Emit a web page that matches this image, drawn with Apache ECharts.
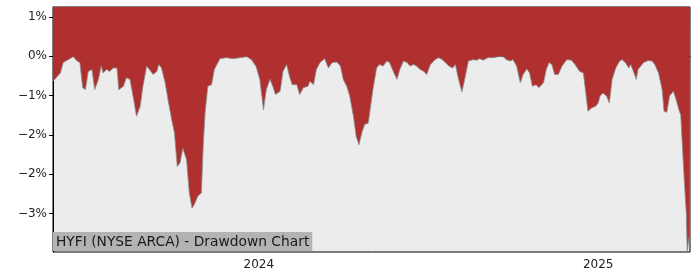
<!DOCTYPE html>
<html>
<head>
<meta charset="utf-8">
<script src="https://cdn.jsdelivr.net/npm/echarts@6/dist/echarts.min.js"></script>
<style>
html,body{margin:0;padding:0;background:#fff;}
#chart{width:700px;height:280px;}
</style>
</head>
<body>
<div id="chart"></div>
<script>
const dates = [
'2023-05-24','2023-06-01','2023-06-04','2023-06-15','2023-06-19','2023-06-22','2023-06-25','2023-06-28',
'2023-07-01','2023-07-05','2023-07-08','2023-07-12','2023-07-15','2023-07-17','2023-07-21','2023-07-24','2023-07-28',
'2023-08-01','2023-08-03','2023-08-08','2023-08-11','2023-08-15','2023-08-19','2023-08-22','2023-08-26','2023-08-29',
'2023-09-02','2023-09-05','2023-09-09','2023-09-13','2023-09-15','2023-09-18','2023-09-22','2023-09-25','2023-09-29',
'2023-10-02','2023-10-05','2023-10-08','2023-10-11','2023-10-15','2023-10-18','2023-10-21','2023-10-24','2023-10-27','2023-10-31',
'2023-11-02','2023-11-04','2023-11-07','2023-11-11','2023-11-14','2023-11-20','2023-11-27',
'2023-12-04','2023-12-12','2023-12-19','2023-12-24','2023-12-29',
'2024-01-02','2024-01-06','2024-01-09','2024-01-13','2024-01-16','2024-01-19','2024-01-24','2024-01-27','2024-01-31',
'2024-02-03','2024-02-06','2024-02-11','2024-02-14','2024-02-18','2024-02-23','2024-02-25','2024-02-29',
'2024-03-03','2024-03-07','2024-03-12','2024-03-16','2024-03-20','2024-03-25','2024-03-29',
'2024-04-01','2024-04-05','2024-04-08','2024-04-12','2024-04-15','2024-04-18','2024-04-21','2024-04-24','2024-04-28','2024-04-30',
'2024-05-03','2024-05-07','2024-05-10','2024-05-14','2024-05-18','2024-05-21','2024-05-25','2024-05-29',
'2024-06-01','2024-06-05','2024-06-09','2024-06-12','2024-06-16','2024-06-19','2024-06-23','2024-06-27','2024-06-30',
'2024-07-04','2024-07-09','2024-07-13','2024-07-17','2024-07-20','2024-07-24','2024-07-28','2024-07-31',
'2024-08-03','2024-08-07','2024-08-10','2024-08-14','2024-08-19','2024-08-23','2024-08-26','2024-08-30',
'2024-09-04','2024-09-10','2024-09-15','2024-09-20','2024-09-24','2024-09-28',
'2024-10-01','2024-10-05','2024-10-09','2024-10-12','2024-10-16','2024-10-19','2024-10-22','2024-10-26','2024-10-29','2024-10-31',
'2024-11-03','2024-11-06','2024-11-09','2024-11-12','2024-11-15','2024-11-19','2024-11-23','2024-11-28',
'2024-12-03','2024-12-07','2024-12-12','2024-12-16','2024-12-19','2024-12-21','2024-12-25','2024-12-29',
'2025-01-01','2025-01-03','2025-01-06','2025-01-10','2025-01-13','2025-01-16','2025-01-20','2025-01-24','2025-01-27','2025-01-31',
'2025-02-03','2025-02-05','2025-02-08','2025-02-11','2025-02-13','2025-02-19','2025-02-24','2025-02-28',
'2025-03-03','2025-03-07','2025-03-11','2025-03-13','2025-03-16','2025-03-19','2025-03-23','2025-03-26','2025-03-29','2025-03-31',
'2025-04-02','2025-04-04','2025-04-06','2025-04-07','2025-04-09','2025-04-10'
];
const drawdown = [
-0.51,-0.34,-0.13,-0.01,-0.10,-0.13,-0.64,-0.68,
-0.31,-0.27,-0.68,-0.47,-0.20,-0.34,-0.27,-0.31,-0.24,
-0.24,-0.68,-0.61,-0.44,-0.47,-0.88,-1.22,-1.02,-0.61,
-0.20,-0.27,-0.37,-0.31,-0.17,-0.24,-0.54,-0.88,-1.29,
-1.56,-2.24,-2.17,-1.87,-2.10,-2.78,-3.09,-2.99,-2.85,-2.78,
-1.83,-1.15,-0.61,-0.58,-0.27,-0.05,-0.03,
-0.05,-0.03,-0.01,-0.07,-0.21,
-0.47,-1.09,-0.68,-0.47,-0.61,-0.78,-0.71,-0.31,-0.17,
-0.41,-0.58,-0.58,-0.78,-0.64,-0.61,-0.51,-0.58,
-0.27,-0.13,-0.05,-0.24,-0.13,-0.12,-0.20,
-0.47,-0.62,-0.81,-1.22,-1.63,-1.80,-1.56,-1.39,-1.36,-1.09,
-0.68,-0.24,-0.17,-0.20,-0.10,-0.13,-0.31,-0.47,
-0.27,-0.10,-0.13,-0.20,-0.17,-0.20,-0.27,-0.31,-0.37,
-0.17,-0.07,-0.03,-0.07,-0.13,-0.20,-0.24,-0.17,
-0.44,-0.73,-0.47,-0.10,-0.07,-0.08,-0.05,-0.08,
-0.03,-0.03,-0.01,0.00,-0.07,-0.10,
-0.07,-0.20,-0.54,-0.37,-0.26,-0.34,-0.61,-0.58,-0.64,-0.68,
-0.54,-0.27,-0.13,-0.17,-0.37,-0.37,-0.20,-0.07,
-0.08,-0.17,-0.31,-0.34,-0.81,-1.12,-1.05,-1.02,
-0.95,-0.81,-0.75,-0.81,-0.95,-0.47,-0.24,-0.10,-0.07,-0.15,
-0.24,-0.17,-0.31,-0.47,-0.27,-0.13,-0.09,-0.10,
-0.17,-0.34,-0.68,-1.12,-1.14,-0.81,-0.71,-0.88,-1.09,-1.19,
-1.90,-2.58,-3.19,-3.97,-3.69,-3.66
];
const yTickValues = [0.8, 0, -0.8, -1.6, -2.4, -3.2];
const xTickDates = ['2024-01-01', '2025-01-01'];
const xTickLabels = ['2024', '2025'];
const titleText = 'HYFI (NYSE ARCA) - Drawdown Chart';

const ts = d => new Date(d + 'T00:00:00Z').getTime();
const chart = echarts.init(document.getElementById('chart'), null, {renderer: 'canvas'});
const xTickTs = xTickDates.map(ts);
const seriesData = dates.map((d, i) => [ts(d), drawdown[i]]);
const font = 'DejaVu Sans';

chart.setOption({
  animation: false,
  backgroundColor: '#ffffff',
  title: {
    text: titleText,
    left: 53,
    bottom: 29,
    backgroundColor: '#b3b3b3',
    padding: [3, 3, 2, 3],
    textStyle: {fontFamily: font, fontSize: 13.8, fontWeight: 'normal', color: '#1a1a1a'}
  },
  grid: {
    left: 53, right: 10, top: 7, bottom: 28,
    show: true, backgroundColor: '#ececec', borderColor: '#000', borderWidth: 1
  },
  xAxis: {
    type: 'value',
    min: ts(dates[0]),
    max: ts(dates[dates.length - 1]),
    splitLine: {show: false},
    axisLine: {show: true, lineStyle: {color: '#000', width: 1}},
    axisTick: {show: true, customValues: xTickTs, length: 4, lineStyle: {color: '#000'}},
    axisLabel: {
      customValues: xTickTs,
      fontFamily: font, fontSize: 12, color: '#222', margin: 7,
      formatter: function (v) {
        const i = xTickTs.indexOf(v);
        return i >= 0 ? xTickLabels[i] : '';
      }
    }
  },
  yAxis: {
    type: 'value',
    min: -3.98,
    max: 1.0,
    splitLine: {show: false},
    axisLine: {show: true, lineStyle: {color: '#000', width: 1}},
    axisTick: {show: true, customValues: yTickValues, length: 4, lineStyle: {color: '#000'}},
    axisLabel: {
      customValues: yTickValues,
      fontFamily: font, fontSize: 12, color: '#222', margin: 6,
      formatter: function (v) {
        const r = Math.round(v);
        return (r < 0 ? '\u2212' + Math.abs(r) : String(r)) + '%';
      }
    }
  },
  series: [{
    type: 'line',
    data: seriesData,
    showSymbol: false,
    symbol: 'none',
    sampling: 'none',
    lineStyle: {color: '#8c8c8c', width: 0.8},
    areaStyle: {origin: 'end', color: '#b03030', opacity: 1},
    z: 2
  }]
});
</script>
</body>
</html>
